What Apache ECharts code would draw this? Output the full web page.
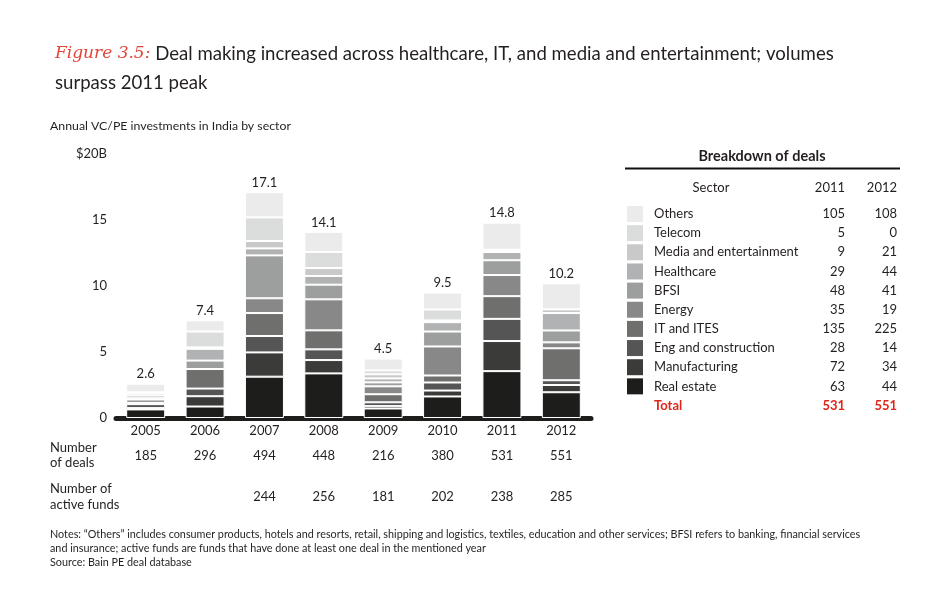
<!DOCTYPE html>
<html>
<head>
<meta charset="utf-8">
<script src="https://cdn.jsdelivr.net/npm/echarts@6/dist/echarts.min.js"></script>
<style>
html,body{margin:0;padding:0;background:#fff;}
#c{width:950px;height:611px;}
</style>
</head>
<body>
<div id="c"></div>
<script>
// ---- data ----
var years = ['2005','2006','2007','2008','2009','2010','2011','2012'];
var totals = ['2.6','7.4','17.1','14.1','4.5','9.5','14.8','10.2'];
var realEstate    = [0.65, 0.87, 3.13, 3.38, 0.72, 1.63, 3.55, 1.95];
var manufacturing = [0.10, 0.78, 1.84, 1.01, 0.18, 0.45, 2.28, 0.55];
var engConstr     = [0.30, 0.58, 1.24, 0.81, 0.29, 0.61, 1.68, 0.36];
var itItes        = [0.10, 1.48, 1.74, 1.44, 0.61, 0.53, 1.72, 2.42];
var energy        = [0.25, 0.00, 1.12, 2.35, 0.60, 2.20, 1.60, 0.45];
var bfsi          = [0.10, 0.64, 3.25, 1.11, 0.30, 1.13, 1.12, 0.90];
var healthcare    = [0.20, 0.89, 0.53, 0.66, 0.30, 0.71, 0.62, 1.32];
var media         = [0.15, 0.11, 0.56, 0.60, 0.31, 0.13, 0.05, 0.28];
var telecom       = [0.10, 1.20, 1.79, 1.22, 0.30, 0.83, 0.13, 0.00];
var others        = [0.65, 0.85, 1.90, 1.52, 0.89, 1.28, 2.05, 1.97];
var dealCounts  = ['185','296','494','448','216','380','531','551'];
var activeFunds = ['','','244','256','181','202','238','285'];
var yTicks = [0, 5, 10, 15, 20];
var sectorNames = ['Others','Telecom','Media and entertainment','Healthcare','BFSI','Energy','IT and ITES','Eng and construction','Manufacturing','Real estate'];
var deals2011 = ['105','5','9','29','48','35','135','28','72','63'];
var deals2012 = ['108','0','21','44','41','19','225','14','34','44'];
var total2011 = '531';
var total2012 = '551';

// ---- styles ----
var FONT = 'Lato, "Noto Sans", sans-serif';
var TXT = '#231f20';
var colors = {
  'Others':'#ebebeb','Telecom':'#dbdcdc','Media and entertainment':'#c9c9c9','Healthcare':'#b1b2b3',
  'BFSI':'#9d9e9e','Energy':'#888888','IT and ITES':'#6f6f6e','Eng and construction':'#555555',
  'Manufacturing':'#3b3b3a','Real estate':'#1d1d1b'
};
var stackOrder = [
  ['Real estate', realEstate], ['Manufacturing', manufacturing], ['Eng and construction', engConstr],
  ['IT and ITES', itItes], ['Energy', energy], ['BFSI', bfsi], ['Healthcare', healthcare],
  ['Media and entertainment', media], ['Telecom', telecom], ['Others', others]
];

var series = stackOrder.map(function (s, i) {
  var o = {
    name: s[0], type: 'bar', stack: 'all', data: s[1], barWidth: 39,
    itemStyle: { color: colors[s[0]], borderColor: '#fff', borderWidth: 1 },
    emphasis: { disabled: true }, animation: false
  };
  if (i === stackOrder.length - 1) {
    o.label = {
      show: true, position: 'top', distance: 3,
      fontFamily: FONT, fontSize: 13, color: TXT,
      formatter: function (p) { return totals[p.dataIndex]; }
    };
  }
  return o;
});

var graphics = [];
function txt(x, y, text, opt) {
  opt = opt || {};
  graphics.push({
    type: 'text', x: x, y: y,
    style: {
      text: text, fill: opt.fill || TXT, font: (opt.weight || 'normal') + ' ' + (opt.size || 12) + 'px ' + FONT,
      textAlign: opt.align || 'left', textVerticalAlign: 'middle'
    }
  });
}
// subtitle
txt(50, 126, 'Annual VC/PE investments in India by sector', { size: 12.3 });
// row labels under axis
txt(50, 448, 'Number', { size: 13 });
txt(50, 463, 'of deals', { size: 13 });
txt(50, 489, 'Number of', { size: 13 });
txt(50, 505, 'active funds', { size: 13 });
// notes
txt(50, 535, 'Notes: \u201cOthers\u201d includes consumer products, hotels and resorts, retail, shipping and logistics, textiles, education and other services; BFSI refers to banking, financial services', { size: 10.8 });
txt(50, 549, 'and insurance; active funds are funds that have done at least one deal in the mentioned year', { size: 10.8 });
txt(50, 563, 'Source: Bain PE deal database', { size: 10.8 });

// table
txt(762, 156, 'Breakdown of deals', { size: 14.5, weight: 'bold', align: 'center' });
graphics.push({ type: 'line', shape: { x1: 625, y1: 168.5, x2: 900, y2: 168.5 }, style: { stroke: '#111', lineWidth: 2 } });
txt(711, 188, 'Sector', { size: 13 });
graphics[graphics.length - 1].style.textAlign = 'center';
txt(845, 188, '2011', { size: 13, align: 'right' });
txt(897, 188, '2012', { size: 13, align: 'right' });
sectorNames.forEach(function (name, i) {
  var y = 214 + i * 19.15;
  graphics.push({ type: 'rect', shape: { x: 627, y: y - 8, width: 16, height: 16 }, style: { fill: colors[name] } });
  txt(654, y, name, { size: 13 });
  txt(845, y, deals2011[i], { size: 13, align: 'right' });
  txt(897, y, deals2012[i], { size: 13, align: 'right' });
});
txt(654, 406, 'Total', { size: 13, weight: 'bold', fill: '#e0261b' });
txt(845, 406, total2011, { size: 13, weight: 'bold', fill: '#e0261b', align: 'right' });
txt(897, 406, total2012, { size: 13, weight: 'bold', fill: '#e0261b', align: 'right' });

var chart = echarts.init(document.getElementById('c'), null, { renderer: 'canvas' });
chart.setOption({
  backgroundColor: '#fff',
  animation: false,
  title: {
    left: 50, top: 34,
    text: '{fig|Figure 3.5:} Deal making increased across healthcare, IT, and media and entertainment; volumes\nsurpass 2011 peak',
    textStyle: {
      fontFamily: FONT, fontSize: 18.6, fontWeight: 'normal', color: TXT, lineHeight: 29,
      rich: { fig: { fontFamily: '"DejaVu Serif", serif', fontStyle: 'italic', fontSize: 17, color: '#e0463a' } }
    }
  },
  grid: { left: 116, right: 359, top: 154, height: 264 },
  xAxis: [
    {
      type: 'category', data: years, position: 'bottom',
      axisLine: { show: true, lineStyle: { color: '#1d1d1b', width: 5 } },
      axisTick: { show: false },
      axisLabel: { margin: 6, fontFamily: FONT, fontSize: 13, color: TXT }
    },
    {
      type: 'category', data: dealCounts, position: 'bottom', offset: 26.5,
      axisLine: { show: false }, axisTick: { show: false },
      axisLabel: { margin: 5, fontFamily: FONT, fontSize: 13, color: TXT }
    },
    {
      type: 'category', data: activeFunds, position: 'bottom', offset: 67.5,
      axisLine: { show: false }, axisTick: { show: false },
      axisLabel: { margin: 5, fontFamily: FONT, fontSize: 13, color: TXT }
    }
  ],
  yAxis: {
    type: 'value', min: yTicks[0], max: yTicks[yTicks.length - 1], interval: 5,
    axisLine: { show: false }, axisTick: { show: false }, splitLine: { show: false },
    axisLabel: {
      margin: 9, fontFamily: FONT, fontSize: 13, color: TXT,
      formatter: function (v) { return v === 20 ? '$20B' : String(v); }
    }
  },
  series: series,
  graphic: graphics
});
</script>
</body>
</html>
